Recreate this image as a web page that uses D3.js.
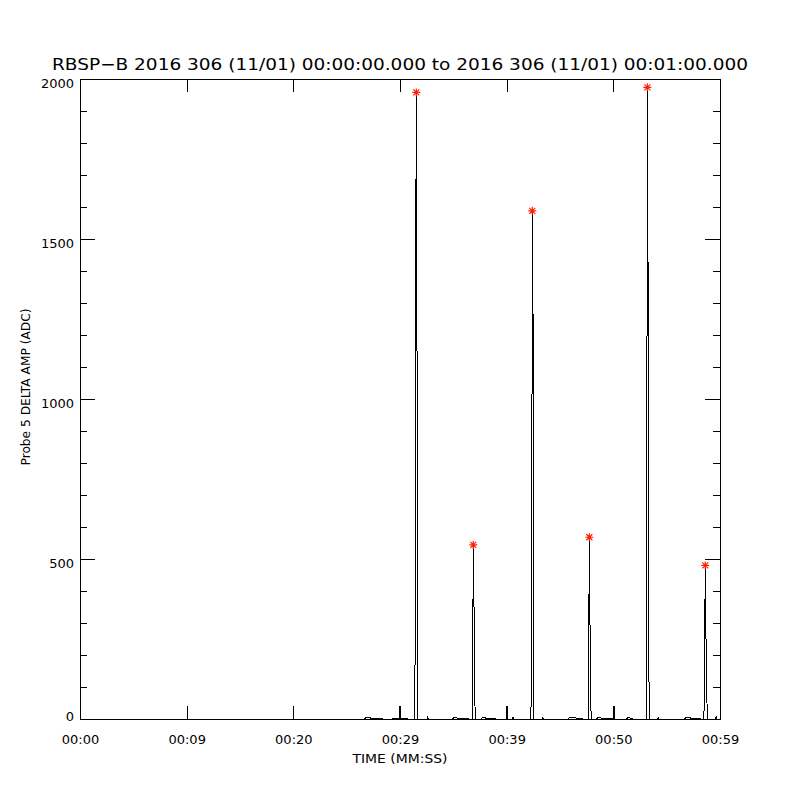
<!DOCTYPE html>
<html>
<head>
<meta charset="utf-8">
<script src="https://cdn.jsdelivr.net/npm/d3@7"></script>
<style>
    body { margin: 0; background: #fff; }
    text { font-family: 'DejaVu Sans', sans-serif; fill: #000; }
</style>
</head>
<body>
<script>
// sample times (s) and probe amplitudes (ADC)
var times = [
    0, 26.70, 26.75, 27.20, 27.25, 28.30, 28.35,
    29.30, 29.35, 29.95, 30.00, 30.05, 30.70, 30.75,
    31.40, 31.47, 31.53, 31.59, 31.65,
    32.55, 32.60, 32.65,
    34.95, 35.00, 35.30, 35.35, 36.35, 36.40,
    36.75, 36.80, 36.87, 36.92, 36.98, 37.05,
    37.65, 37.70, 37.95, 38.00, 38.95, 39.00,
    39.98, 40.03, 40.08,
    40.55, 40.60, 40.65,
    42.22, 42.34, 42.40, 42.45, 42.50, 42.56,
    43.35, 43.40, 43.45,
    45.75, 45.80, 46.45, 46.50, 47.10, 47.15,
    47.65, 47.68, 47.75, 47.80, 47.87, 47.93,
    48.45, 48.50, 48.80, 48.85, 49.85, 49.90,
    50.00, 50.06, 50.12,
    51.25, 51.30, 51.50, 51.55, 51.80, 51.85,
    53.08, 53.12, 53.19, 53.25, 53.30, 53.36,
    54.15, 54.20, 54.25,
    56.70, 56.75, 57.20, 57.25, 58.10, 58.15,
    58.45, 58.52, 58.62, 58.66, 58.72, 58.80,
    59.58, 59.63, 59.68, 60
];
var amps = [
    0, 0, 3, 6, 3, 3, 0,
    0, 3, 3, 41, 3, 3, 0,
    0, 1375, 1958, 1247, 0,
    0, 8, 0,
    0, 3, 6, 3, 3, 0,
    0, 54, 544, 434, 163, 0,
    0, 3, 6, 3, 3, 0,
    0, 41, 0,
    0, 6, 0,
    0, 75, 1588, 1540, 840, 0,
    0, 5, 0,
    0, 3, 5, 3, 3, 0,
    0, 144, 568, 350, 66, 0,
    0, 3, 5, 3, 3, 0,
    0, 41, 0,
    0, 3, 5, 3, 3, 0,
    0, 262, 1974, 1428, 440, 0,
    0, 5, 0,
    0, 3, 5, 3, 3, 0,
    0, 34, 480, 273, 226, 0,
    0, 8, 0, 0
];

// flagged peak maxima (red asterisks)
var peakTimes = [31.53, 36.87, 42.40, 47.75, 53.19, 58.62];
var peakAmps  = [1958, 544, 1588, 568, 1974, 480];

var xTicks = [0, 10, 20, 30, 40, 50, 60];
var xTickLabels = ['00:00', '00:09', '00:20', '00:29', '00:39', '00:50', '00:59'];
var yTicks = [0, 500, 1000, 1500, 2000];
var yMinor = d3.range(100, 2000, 100).filter(function(v) { return v % 500 !== 0; });

var titleText = 'RBSP\u2212B 2016 306 (11/01) 00:00:00.000 to 2016 306 (11/01) 00:01:00.000';

/**************************************/

var width  = 800,
    height = 800,
    plotLeft = 80, plotRight = 720, plotTop = 79, plotBottom = 719;

var svg = d3.select('body')
    .append('svg')
    .attr('width', width)
    .attr('height', height);

var x = d3.scaleLinear().domain([0, 60]).range([plotLeft, plotRight]);
var y = d3.scaleLinear().domain([0, 2000]).range([plotBottom, plotTop]);

// the trace
var pts = times.map(function(t, i) { return [t, amps[i]]; });
var line = d3.line()
    .x(function(d) { return x(d[0]); })
    .y(function(d) { return y(d[1]); });

svg.append('path')
    .datum(pts)
    .attr('d', line)
    .attr('fill', 'none')
    .attr('stroke', '#000')
    .attr('stroke-width', 1)
    .attr('shape-rendering', 'crispEdges');

// axes, ticks pointing inward
function styleAxis(g) {
    g.attr('shape-rendering', 'crispEdges');
    g.selectAll('path, line').attr('stroke', '#000');
    g.selectAll('text').attr('font-size', 13).attr('font-family', "'DejaVu Sans', sans-serif");
}

svg.append('g')
    .attr('transform', 'translate(0,' + plotBottom + ')')
    .call(d3.axisBottom(x).tickValues(xTicks).tickSizeInner(-13).tickSizeOuter(0).tickPadding(16)
        .tickFormat(function(d, i) { return xTickLabels[i]; }))
    .call(styleAxis);

svg.append('g')
    .attr('transform', 'translate(0,' + plotTop + ')')
    .call(d3.axisTop(x).tickValues(xTicks).tickSizeInner(-13).tickSizeOuter(0).tickFormat(''))
    .call(styleAxis);

var yl = svg.append('g')
    .attr('transform', 'translate(' + plotLeft + ',0)')
    .call(d3.axisLeft(y).tickValues(yTicks).tickSizeInner(-15).tickSizeOuter(0).tickPadding(6)
        .tickFormat(d3.format('d')))
    .call(styleAxis);
yl.selectAll('text')
    .attr('dy', function(d) { return d === 0 ? '0.1em' : '0.62em'; });

svg.append('g')
    .attr('transform', 'translate(' + plotLeft + ',0)')
    .call(d3.axisLeft(y).tickValues(yMinor).tickSizeInner(-7).tickSizeOuter(0).tickFormat(''))
    .call(styleAxis);

svg.append('g')
    .attr('transform', 'translate(' + plotRight + ',0)')
    .call(d3.axisRight(y).tickValues(yTicks).tickSizeInner(-15).tickSizeOuter(0).tickFormat(''))
    .call(styleAxis);

svg.append('g')
    .attr('transform', 'translate(' + plotRight + ',0)')
    .call(d3.axisRight(y).tickValues(yMinor).tickSizeInner(-7).tickSizeOuter(0).tickFormat(''))
    .call(styleAxis);

// peak markers
var star = 'M-4,0H4M0,-4V4M-3,-3L3,3M-3,3L3,-3';
svg.append('g').selectAll('path')
    .data(peakTimes)
    .enter().append('path')
    .attr('transform', function(d, i) { return 'translate(' + x(d) + ',' + y(peakAmps[i]) + ')'; })
    .attr('d', star)
    .attr('fill', 'none')
    .attr('stroke', '#ff2000')
    .attr('stroke-width', 1.2);

// titles
svg.append('text')
    .attr('x', 400)
    .attr('y', 70)
    .attr('text-anchor', 'middle')
    .attr('font-size', 16)
    .attr('textLength', 696)
    .attr('lengthAdjust', 'spacingAndGlyphs')
    .text(titleText);

svg.append('text')
    .attr('x', 400)
    .attr('y', 763)
    .attr('text-anchor', 'middle')
    .attr('font-size', 13)
    .attr('textLength', 95)
    .attr('lengthAdjust', 'spacingAndGlyphs')
    .text('TIME (MM:SS)');

svg.append('text')
    .attr('transform', 'translate(30,387) rotate(-90)')
    .attr('text-anchor', 'middle')
    .attr('font-size', 13)
    .attr('textLength', 157)
    .attr('lengthAdjust', 'spacingAndGlyphs')
    .text('Probe 5 DELTA AMP (ADC)');
</script>
</body>
</html>
